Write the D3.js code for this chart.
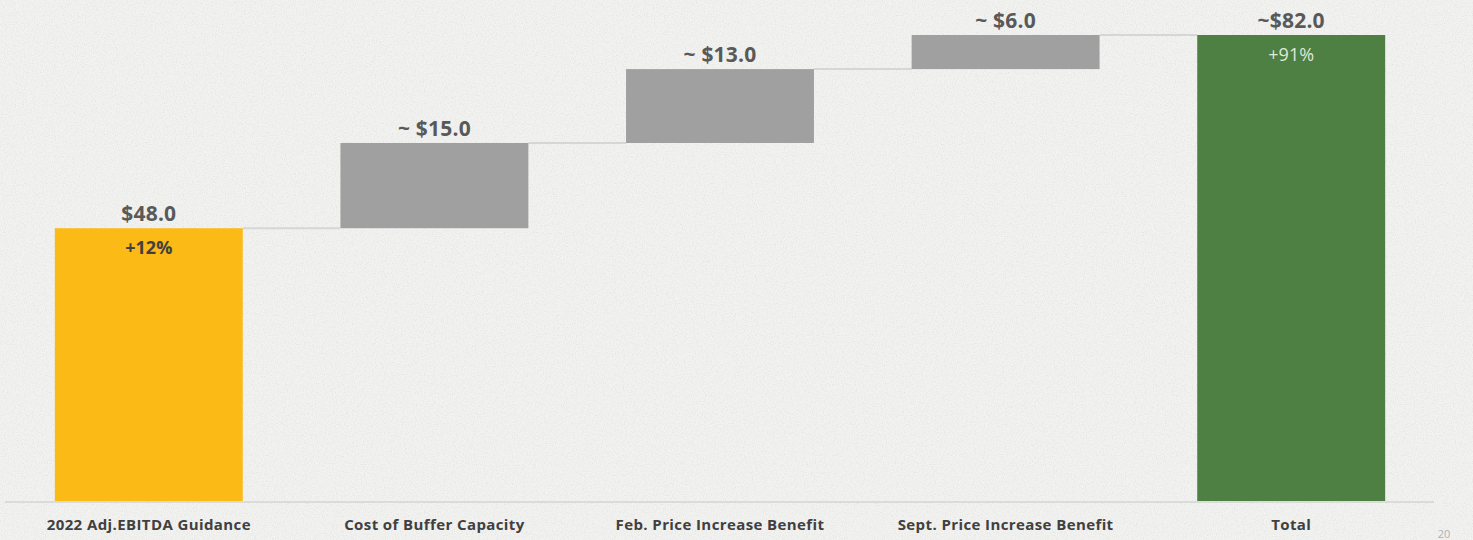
<!DOCTYPE html>
<html>
<head>
<meta charset="utf-8">
<script src="https://cdn.jsdelivr.net/npm/d3@7"></script>
<style>
  html, body { margin: 0; padding: 0; background: #f1f1ef; }
  svg { display: block; }
</style>
</head>
<body>
<svg id="chart" width="1473" height="540"></svg>
<script>
// Waterfall: 2022 Adj. EBITDA guidance bridge to total
const categories = ["2022 Adj.EBITDA Guidance", "Cost of Buffer Capacity", "Feb. Price Increase Benefit", "Sept. Price Increase Benefit", "Total"];
const values = [48, 15, 13, 6, 82];
const kinds = ["start", "delta", "delta", "delta", "total"];
const valueLabels = ["$48.0", "~ $15.0", "~ $13.0", "~ $6.0", "~$82.0"];
const pctLabels = ["+12%", null, null, null, "+91%"];

const W = 1473, H = 540;
const svg = d3.select("#chart");

// subtle paper grain
const defs = svg.append("defs");
const f = defs.append("filter").attr("id", "grain").attr("x", 0).attr("y", 0).attr("width", "100%").attr("height", "100%");
f.append("feTurbulence").attr("type", "fractalNoise").attr("baseFrequency", 0.9).attr("numOctaves", 2).attr("seed", 4).attr("result", "n");
f.append("feColorMatrix").attr("in", "n").attr("type", "matrix")
  .attr("values", "0 0 0 0 0.55  0 0 0 0 0.55  0 0 0 0 0.53  0 0 0 -2.2 1.25");
svg.append("rect").attr("width", W).attr("height", H).attr("fill", "#f2f2f0");
svg.append("rect").attr("width", W).attr("height", H).attr("filter", "url(#grain)").attr("opacity", 0.3);

// compute floating segments
let run = 0;
const bars = values.map((v, i) => {
  let lo, hi;
  if (kinds[i] === "delta") { lo = run; hi = run + v; run = hi; }
  else { lo = 0; hi = v; run = v; }
  return { cat: categories[i], lo, hi, kind: kinds[i], label: valueLabels[i], pct: pctLabels[i] };
});

const x = d3.scaleBand().domain(categories).range([6, 1434]).paddingInner(0.342).paddingOuter(0.171);
const y = d3.scaleLinear().domain([0, 82]).range([501, 35]);

const fill = { start: "#fbba16", delta: "#a0a0a0", total: "#4e7f43" };
const font = "'Open Sans', Lato, sans-serif";

// connectors
const conn = svg.append("g");
bars.slice(0, -1).forEach((b, i) => {
  conn.append("line")
    .attr("x1", x(b.cat) + x.bandwidth()).attr("x2", x(bars[i + 1].cat))
    .attr("y1", y(b.hi)).attr("y2", y(b.hi))
    .attr("stroke", "#d6d6d6").attr("stroke-width", 2);
});

// axis baseline
svg.append("line").attr("x1", 5).attr("x2", 1434).attr("y1", 502).attr("y2", 502)
  .attr("stroke", "#d4d4d4").attr("stroke-width", 1.5);

// bars
svg.append("g").selectAll("rect").data(bars).join("rect")
  .attr("x", d => x(d.cat)).attr("width", x.bandwidth())
  .attr("y", d => y(d.hi)).attr("height", d => y(d.lo) - y(d.hi))
  .attr("fill", d => fill[d.kind]);

// value labels
svg.append("g").selectAll("text").data(bars).join("text")
  .attr("x", d => x(d.cat) + x.bandwidth() / 2).attr("y", d => y(d.hi) - 7)
  .attr("text-anchor", "middle").attr("font-family", font).attr("font-weight", 700)
  .attr("font-size", 21).attr("letter-spacing", 0.2).attr("fill", "#595959").text(d => d.label);

// percent labels
svg.append("g").selectAll("text").data(bars.filter(d => d.pct)).join("text")
  .attr("x", d => x(d.cat) + x.bandwidth() / 2).attr("y", d => y(d.hi) + 26)
  .attr("text-anchor", "middle").attr("font-family", font)
  .attr("font-weight", d => d.kind === "start" ? 700 : 400)
  .attr("font-size", 18).attr("fill", d => d.kind === "start" ? "#404040" : "#dfe8da")
  .text(d => d.pct);

// category labels
const xAxis = svg.append("g").attr("transform", "translate(0,502)")
  .call(d3.axisBottom(x).tickSize(0).tickPadding(17));
xAxis.select(".domain").remove();
xAxis.selectAll("text").attr("font-family", font).attr("font-weight", 700)
  .attr("font-size", 15).attr("letter-spacing", 0.4).attr("fill", "#404040");

// page number
svg.append("text").attr("x", 1444).attr("y", 538).attr("text-anchor", "middle")
  .attr("font-family", font).attr("font-size", 11).attr("fill", "#b0b0b0").text("20");
</script>
</body>
</html>
